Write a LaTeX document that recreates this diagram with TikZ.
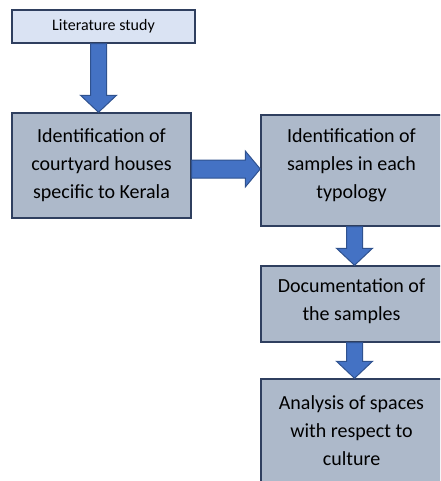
\documentclass[tikz,border=0pt]{standalone}
\usepackage{fontspec}
\setmainfont{Carlito}
\usetikzlibrary{calc,positioning}

\definecolor{boxfill}{HTML}{ADB9CA}
\definecolor{boxline}{HTML}{2F3F5F}
\definecolor{litfill}{HTML}{DAE3F3}
\definecolor{arrfill}{HTML}{4472C4}
\definecolor{arrline}{HTML}{2F528F}

\tikzset{
  stepbox/.style={draw=boxline, line width=1.4pt, fill=boxfill, align=center,
    inner sep=0pt, font=\fontsize{20}{28}\selectfont},
  topbox/.style={stepbox, fill=litfill, font=\fontsize{16}{19}\selectfont},
  blockarr/.style={draw=arrline, line width=1pt, fill=arrfill, line join=miter}
}

% block arrow downwards: [x shift]{from}{to}
\newcommand{\vblock}[3][0pt]{%
  \draw[blockarr] let \p1=(#2.south), \p2=(#3.north) in
    (\x2+#1-8pt,\y1) -- (\x2+#1+8pt,\y1) -- (\x2+#1+8pt,\y2+17pt)
    -- (\x2+#1+18pt,\y2+17pt) -- (\x2+#1,\y2) -- (\x2+#1-18pt,\y2+17pt)
    -- (\x2+#1-8pt,\y2+17pt) -- cycle;}
% block arrow to the right: [y shift]{from}{to}
\newcommand{\hblock}[3][0pt]{%
  \draw[blockarr] let \p1=(#2.east), \p2=(#3.west) in
    (\x1,\y1+#1+9pt) -- (\x2-15pt,\y1+#1+9pt) -- (\x2-15pt,\y1+#1+18pt)
    -- (\x2,\y1+#1) -- (\x2-15pt,\y1+#1-18pt) -- (\x2-15pt,\y1+#1-9pt)
    -- (\x1,\y1+#1-9pt) -- cycle;}

\begin{document}
\begin{tikzpicture}[x=1pt, y=-1pt]
  \useasboundingbox (0,0) rectangle (440,481);
  \clip (0,0) rectangle (440,481);

  % Boxes
  \node[topbox, minimum width=183pt, minimum height=33pt] (lit) at (103.5,26.5) {Literature study};
  \node[stepbox, minimum width=179pt, minimum height=105pt] (ident) at (101.5,165.5)
    {Identification of\\courtyard houses\\specific to Kerala};
  \node[stepbox, minimum width=181pt, minimum height=111pt] (samples) at (351.5,170.5)
    {Identification of\\samples in each\\typology\\[-14pt]};
  \node[stepbox, minimum width=181pt, minimum height=76pt] (docu) at (351.5,304)
    {Documentation of\\the samples\\[-20pt]};
  \node[stepbox, minimum width=181pt, minimum height=104pt] (analysis) at (351.5,431)
    {Analysis of spaces\\with respect to\\culture};

  % Arrows
  \vblock[-3pt]{lit}{ident}
  \hblock[-3.5pt]{ident}{samples}
  \vblock[3pt]{samples}{docu}
  \vblock[3pt]{docu}{analysis}
\end{tikzpicture}
\end{document}
